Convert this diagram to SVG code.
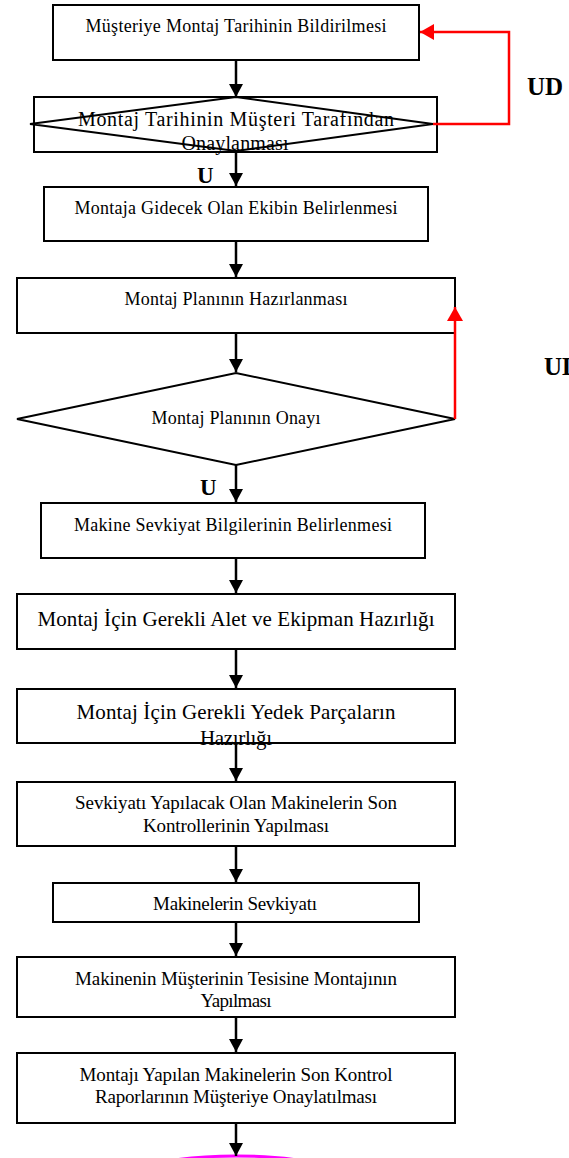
<svg xmlns="http://www.w3.org/2000/svg" width="569" height="1158" viewBox="0 0 569 1158">
<style>
.box{fill:#fff;stroke:#000;stroke-width:2}
.dia{fill:none;stroke:#000;stroke-width:2}
.t{font-family:"Liberation Serif","Times New Roman",serif;fill:#000;text-anchor:middle}
.lbl{font-family:"Liberation Serif","Times New Roman",serif;font-weight:bold;fill:#000}
.c{stroke:#000;stroke-width:2.5;fill:none}
.r{stroke:#FF0000;stroke-width:2.5;fill:none}
</style>
<defs>
<marker id="ah" markerUnits="userSpaceOnUse" markerWidth="14" markerHeight="14" refX="13" refY="7" orient="auto">
<path d="M0,0 L13,7 L0,14 z" fill="#000"/>
</marker>
<marker id="ahr" markerUnits="userSpaceOnUse" markerWidth="15" markerHeight="16" refX="14" refY="8" orient="auto">
<path d="M0,0 L14,8 L0,16 z" fill="#FF0000"/>
</marker>
</defs>
<rect width="569" height="1158" fill="#fff"/>

<g id="n1">
<rect class="box" x="53" y="5" width="366" height="55"/>
<text class="t" x="236" y="32" font-size="18" textLength="301" lengthAdjust="spacing">Müşteriye Montaj Tarihinin Bildirilmesi</text>
</g>
<g id="n2">
<rect class="box" x="34" y="97" width="403" height="55"/>
<polygon class="dia" points="30,124 236,97 433,124 236,151"/>
<text class="t" x="236" y="126" font-size="20" textLength="316" lengthAdjust="spacing">Montaj Tarihinin Müşteri Tarafından</text>
<text class="t" x="235" y="150" font-size="20" textLength="107" lengthAdjust="spacing">Onaylanması</text>
</g>
<g id="n3">
<rect class="box" x="44" y="187" width="384" height="54"/>
<text class="t" x="236" y="214" font-size="18" textLength="323" lengthAdjust="spacing">Montaja Gidecek Olan Ekibin Belirlenmesi</text>
</g>
<g id="n4">
<rect class="box" x="17" y="278" width="438" height="55"/>
<text class="t" x="236" y="305" font-size="18" textLength="223" lengthAdjust="spacing">Montaj Planının Hazırlanması</text>
</g>
<g id="n5">
<polygon class="box" points="17,419 236,373 455,419 236,465"/>
<text class="t" x="236" y="424" font-size="18" textLength="169" lengthAdjust="spacing">Montaj Planının Onayı</text>
</g>
<g id="n6">
<rect class="box" x="41" y="503" width="384" height="55"/>
<text class="t" x="233" y="531" font-size="18" textLength="318" lengthAdjust="spacing">Makine Sevkiyat Bilgilerinin Belirlenmesi</text>
</g>
<g id="n7">
<rect class="box" x="17" y="594" width="438" height="55"/>
<text class="t" x="236" y="626" font-size="21" textLength="397" lengthAdjust="spacing">Montaj İçin Gerekli Alet ve Ekipman Hazırlığı</text>
</g>
<g id="n8">
<rect class="box" x="17" y="689" width="438" height="54"/>
<text class="t" x="236" y="719" font-size="21" textLength="319" lengthAdjust="spacing">Montaj İçin Gerekli Yedek Parçaların</text>
<text class="t" x="236" y="745" font-size="21" textLength="72" lengthAdjust="spacing">Hazırlığı</text>
</g>
<g id="n9">
<rect class="box" x="17" y="782" width="438" height="64"/>
<text class="t" x="236" y="809" font-size="19" textLength="322" lengthAdjust="spacing">Sevkiyatı Yapılacak Olan Makinelerin Son</text>
<text class="t" x="236" y="832" font-size="19" textLength="186" lengthAdjust="spacing">Kontrollerinin Yapılması</text>
</g>
<g id="n10">
<rect class="box" x="53" y="883" width="366" height="39"/>
<text class="t" x="235" y="910" font-size="19" textLength="164" lengthAdjust="spacing">Makinelerin Sevkiyatı</text>
</g>
<g id="n11">
<rect class="box" x="17" y="957" width="438" height="60"/>
<text class="t" x="236" y="985" font-size="19" textLength="322" lengthAdjust="spacing">Makinenin Müşterinin Tesisine Montajının</text>
<text class="t" x="236" y="1007" font-size="19" textLength="71" lengthAdjust="spacing">Yapılması</text>
</g>
<g id="n12">
<rect class="box" x="17" y="1053" width="438" height="70"/>
<text class="t" x="236" y="1081" font-size="19" textLength="313" lengthAdjust="spacing">Montajı Yapılan Makinelerin Son Kontrol</text>
<text class="t" x="236" y="1103" font-size="19" textLength="282" lengthAdjust="spacing">Raporlarının Müşteriye Onaylatılması</text>
</g>
<g id="n13">
<ellipse cx="236" cy="1180" rx="110" ry="24" fill="#fff" stroke="#FF00FF" stroke-width="3"/>
</g>

<g id="connectors">
<line class="c" x1="236" y1="60" x2="236" y2="97" marker-end="url(#ah)"/>
<line class="c" x1="236" y1="151" x2="236" y2="186" marker-end="url(#ah)"/>
<line class="c" x1="236" y1="241" x2="236" y2="277" marker-end="url(#ah)"/>
<line class="c" x1="236" y1="333" x2="236" y2="372" marker-end="url(#ah)"/>
<line class="c" x1="236" y1="465" x2="236" y2="502" marker-end="url(#ah)"/>
<line class="c" x1="236" y1="558" x2="236" y2="593" marker-end="url(#ah)"/>
<line class="c" x1="236" y1="649" x2="236" y2="688" marker-end="url(#ah)"/>
<line class="c" x1="236" y1="743" x2="236" y2="781" marker-end="url(#ah)"/>
<line class="c" x1="236" y1="846" x2="236" y2="882" marker-end="url(#ah)"/>
<line class="c" x1="236" y1="922" x2="236" y2="956" marker-end="url(#ah)"/>
<line class="c" x1="236" y1="1017" x2="236" y2="1052" marker-end="url(#ah)"/>
<line class="c" x1="236" y1="1123" x2="236" y2="1156" marker-end="url(#ah)"/>
<polyline class="r" points="433,124 509,124 509,32 420,32" marker-end="url(#ahr)"/>
<polyline class="r" points="455,419 455,307" marker-end="url(#ahr)"/>
<text class="lbl" x="197" y="183" font-size="23">U</text>
<text class="lbl" x="200" y="495" font-size="23">U</text>
<text class="lbl" x="527" y="95" font-size="25">UD</text>
<text class="lbl" x="544" y="375" font-size="25">UD</text>
</g>
</svg>
